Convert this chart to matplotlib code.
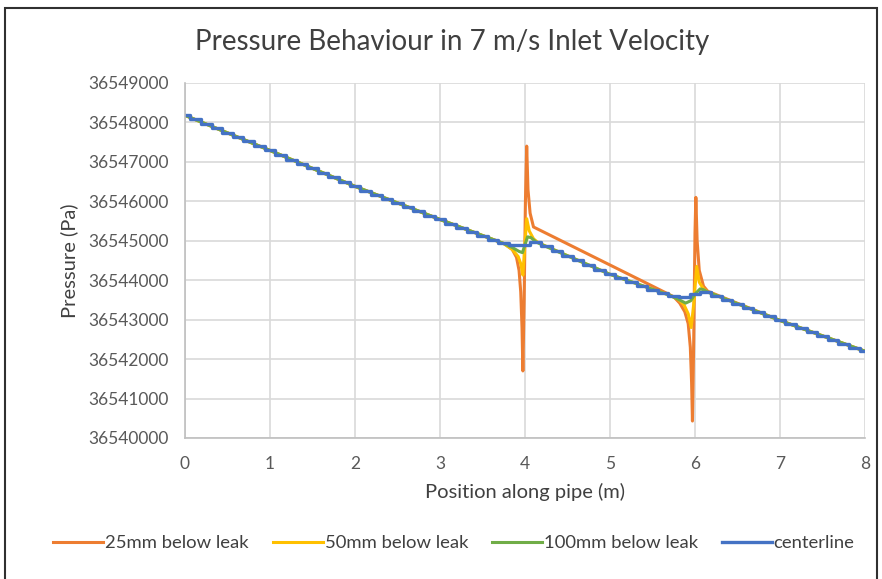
import matplotlib.pyplot as plt
from matplotlib.patches import Rectangle
from matplotlib.ticker import FuncFormatter

plt.rcParams['font.family'] = ['Lato', 'DejaVu Sans']

# centerline, sampled every 0.125 m
x_center = [0, 0.125, 0.25, 0.375, 0.5, 0.625, 0.75, 0.875,
            1.0, 1.125, 1.25, 1.375, 1.5, 1.625, 1.75, 1.875,
            2.0, 2.125, 2.25, 2.375, 2.5, 2.625, 2.75, 2.875,
            3.0, 3.125, 3.25, 3.375, 3.5, 3.625, 3.75, 3.875,
            4.0, 4.125, 4.25, 4.375, 4.5, 4.625, 4.75, 4.875,
            5.0, 5.125, 5.25, 5.375, 5.5, 5.625, 5.75, 5.875,
            6.0, 6.125, 6.25, 6.375, 6.5, 6.625, 6.75, 6.875,
            7.0, 7.125, 7.25, 7.375, 7.5, 7.625, 7.75, 7.875, 8.0]
p_center = [36548180, 36548080, 36547960, 36547850, 36547740, 36547630, 36547520, 36547400,
            36547290, 36547180, 36547060, 36546950, 36546840, 36546720, 36546610, 36546490,
            36546380, 36546270, 36546170, 36546060, 36545960, 36545850, 36545750, 36545640,
            36545540, 36545430, 36545330, 36545220, 36545120, 36545030, 36544950, 36544890,
            36544900, 36544970, 36544860, 36544740, 36544620, 36544500, 36544380, 36544260,
            36544150, 36544050, 36543950, 36543850, 36543760, 36543680, 36543610, 36543580,
            36543640, 36543710, 36543600, 36543500, 36543400, 36543300, 36543200, 36543100,
            36542980, 36542880, 36542780, 36542680, 36542580, 36542480, 36542380, 36542290, 36542200]

# 25 mm below leak
x_25 = [0, 1, 2, 3, 3.75, 3.85, 3.9, 3.93, 3.95, 3.965, 3.975, 3.99, 4.005, 4.02,
        4.035, 4.06, 4.1, 5.5, 5.75, 5.82, 5.88, 5.92, 5.945, 5.96, 5.97, 5.985,
        6.0, 6.01, 6.025, 6.05, 6.1, 6.15, 7, 8]
p_25 = [36548180, 36547290, 36546380, 36545540, 36544930, 36544780, 36544580, 36544250,
        36543700, 36542800, 36541700, 36543500, 36546000, 36547400, 36546300, 36545700,
        36545350, 36543850, 36543580, 36543420, 36543200, 36542900, 36542300, 36541400,
        36540430, 36542500, 36545200, 36546100, 36545000, 36544250, 36543850, 36543720,
        36542980, 36542200]

# 50 mm below leak
x_50 = [0, 1, 2, 3, 3.75, 3.85, 3.92, 3.95, 3.975, 3.995, 4.02, 4.05, 4.1, 4.15, 4.25,
        5, 5.7, 5.8, 5.87, 5.92, 5.955, 5.985, 6.02, 6.05, 6.1, 6.15, 7, 8]
p_50 = [36548180, 36547290, 36546380, 36545540, 36544930, 36544780, 36544600, 36544420,
        36544130, 36544800, 36545560, 36545250, 36545050, 36544960, 36544860,
        36544150, 36543620, 36543520, 36543380, 36543150, 36542800, 36543400, 36544350,
        36543950, 36543780, 36543700, 36542980, 36542200]

# 100 mm below leak
x_100 = [0, 1, 2, 3, 3.75, 3.85, 3.93, 3.97, 4.0, 4.03, 4.07, 4.13, 4.2,
         5, 5.7, 5.8, 5.89, 5.95, 6.0, 6.06, 6.1, 6.15, 7, 8]
p_100 = [36548180, 36547290, 36546380, 36545540, 36544930, 36544830, 36544730, 36544700,
         36544900, 36545100, 36545080, 36544970, 36544900,
         36544150, 36543620, 36543520, 36543420, 36543480, 36543650, 36543780,
         36543760, 36543700, 36542980, 36542200]

fig = plt.figure(figsize=(8.82, 5.79), dpi=100)
ax = fig.add_axes([185 / 882, 1 - 438 / 579, 680 / 882, 355 / 579])

ax.plot(x_25, p_25, color='#ED7D31', lw=2.2, label='25mm below leak')
ax.plot(x_50, p_50, color='#FFC000', lw=2.2, label='50mm below leak')
ax.plot(x_100, p_100, color='#70AD47', lw=2.2, label='100mm below leak')
ax.plot(x_center, p_center, color='#4472C4', lw=2.4, drawstyle='steps-mid', label='centerline')

ax.set_xlim(0, 8)
ax.set_ylim(36540000, 36549000)
ax.set_xticks(range(0, 9))
ax.set_yticks(range(36540000, 36549001, 1000))
ax.yaxis.set_major_formatter(FuncFormatter(lambda v, pos: f'{int(v)}'))
ax.grid(True, color='#D9D9D9', lw=1.2)
ax.set_axisbelow(True)
for s in ['top', 'right']:
    ax.spines[s].set_visible(False)
for s in ['left', 'bottom']:
    ax.spines[s].set_color('#BFBFBF')
    ax.spines[s].set_linewidth(1.2)
ax.tick_params(length=0, labelsize=12.5, colors='#595959')
ax.tick_params(axis='x', pad=13)
ax.tick_params(axis='y', pad=12)

fig.text(452 / 882, 1 - 42 / 579, 'Pressure Behaviour in 7 m/s Inlet Velocity',
         fontsize=20, color='#404040', ha='center', va='center')
ax.set_xlabel('Position along pipe (m)', fontsize=14.5, color='#404040', labelpad=8)
ax.set_ylabel('Pressure (Pa)', fontsize=14.5, color='#404040', labelpad=7)

fig.legend(loc='center', bbox_to_anchor=(454 / 882, 1 - 543 / 579), ncol=4,
           frameon=False, fontsize=13.3, handlelength=2.7, handletextpad=0.1,
           columnspacing=1.3, labelcolor='#404040')

# dark frame around the chart
fig.add_artist(Rectangle((5 / 882, -0.05), 872 / 882, 1.05 - 8 / 579,
                         transform=fig.transFigure, fill=False,
                         edgecolor='#303030', lw=1.5))

fig.savefig('out.png', dpi=100)
